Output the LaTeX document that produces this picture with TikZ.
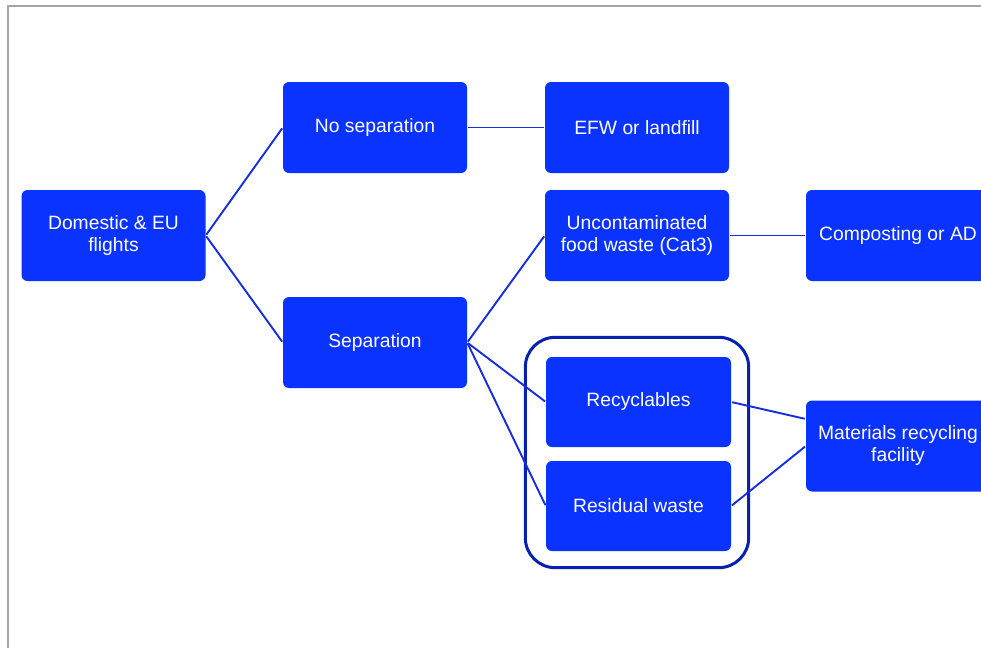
\documentclass[tikz,border=0pt]{standalone}
\usepackage{fontspec}
\setmainfont{Liberation Sans}
\usepackage{xcolor}
\usepackage{tikz}
\usetikzlibrary{fit}
\definecolor{boxblue}{RGB}{10,51,255}
\definecolor{lineblue}{RGB}{22,45,222}
\definecolor{groupblue}{RGB}{8,32,176}

\begin{document}
\begin{tikzpicture}[x=1pt,y=-1pt,
  wbox/.style={fill=boxblue,rounded corners=6pt,minimum width=184pt,minimum height=91pt,
    inner sep=0pt,text=white,align=center,font=\fontsize{19.3}{22}\selectfont},
  link/.style={lineblue,line width=1.9pt,shorten <=1pt,shorten >=1pt}]
\useasboundingbox (0,0) rectangle (981,648);
\clip (0,0) rectangle (981,648);
\draw[gray!70,line width=2pt] (8,648)--(8,6)--(981,6);
% boxes
\node[wbox] (dom) at (113.5,235.5) {Domestic \& EU\\flights};
\node[wbox] (nosep) at (375,127.5) {No separation};
\node[wbox] (sep) at (375,342.5) {Separation};
\node[wbox] (efw) at (637,127.5) {EFW or landfill};
\node[wbox] (food) at (637,235.5) {Uncontaminated\\food waste (Cat3)};
\node[wbox] (comp) at (898,235.5) {Composting or AD};
\node[wbox,minimum width=185pt,minimum height=90pt] (recyc) at (638.5,402) {Recyclables};
\node[wbox,minimum width=185pt,minimum height=90pt] (resid) at (638.5,506) {Residual waste};
\node[wbox] (mrf) at (898,446) {Materials recycling\\facility};
\node[draw=groupblue,line width=3pt,rounded corners=30pt,fit=(recyc)(resid),
  inner xsep=19pt,inner ysep=18pt,xshift=-1.5pt,yshift=1.5pt] (grp) {};
% links
\draw[link] (dom.east) -- (nosep.west);
\draw[link] (dom.east) -- (sep.west);
\draw[link] (nosep) -- (efw);
\draw[link] (sep.east) -- (food.west);
\draw[link] (sep.east) -- (recyc.west);
\draw[link] (sep.east) -- (resid.west);
\draw[link] (food) -- (comp);
\draw[link] (recyc.east) -- ([yshift=27pt]mrf.west);
\draw[link] (resid.east) -- (mrf.west);
\end{tikzpicture}
\end{document}
